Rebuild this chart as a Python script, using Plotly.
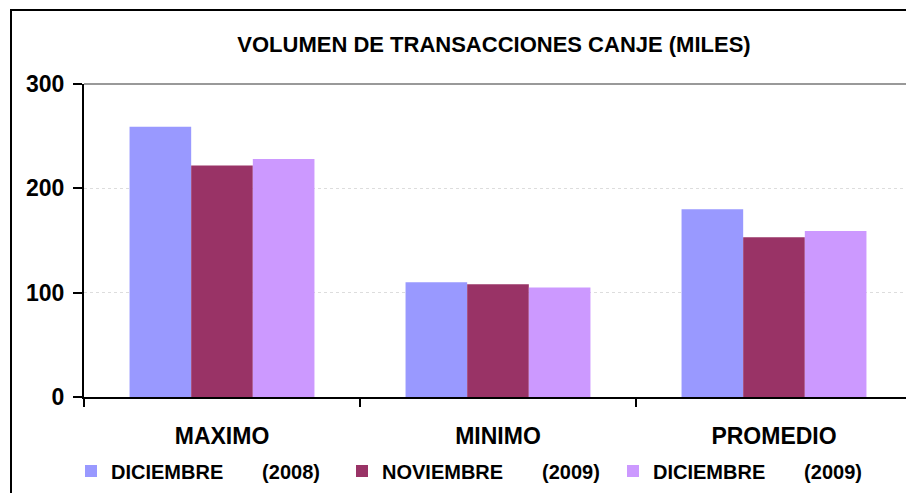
import plotly.graph_objects as go

categories = ["MAXIMO", "MINIMO", "PROMEDIO"]
NB = "\u00a0" * 7
series_names = ["DICIEMBRE" + NB + "(2008)",
                "NOVIEMBRE" + NB + "(2009)",
                "DICIEMBRE" + NB + "(2009)"]
dic_2008 = [259, 110, 180]
nov_2009 = [222, 108, 153]
dic_2009 = [228, 105, 159]
colors = ["#9999FF", "#993366", "#CC99FF"]
y_ticks = [0, 100, 200, 300]

FONT = "Liberation Sans, Arial, sans-serif"

fig = go.Figure()
for name, vals, c in zip(series_names, [dic_2008, nov_2009, dic_2009], colors):
    fig.add_trace(go.Bar(x=categories, y=vals, name=name, marker_color=c,
                         marker_line_width=0))

# page body has an 8px margin, so the figure starts at (8, 8)
OFF = 8
W, H = 914 - OFF, 493 - OFF
L, R, T, B = 84 - OFF, 2, 84 - OFF, 96
pw, ph = W - L - R, H - T - B

fig.update_layout(
    width=W, height=H,
    margin=dict(l=L, r=R, t=T, b=B, autoexpand=False),
    paper_bgcolor="white", plot_bgcolor="white",
    barmode="group", bargap=0.33, bargroupgap=0,
    title=dict(text="<b>VOLUMEN DE TRANSACCIONES CANJE (MILES)</b>",
               x=(494 - OFF) / W, xanchor="center", y=1 - (44 - OFF) / H,
               yanchor="middle",
               font=dict(family=FONT, size=22, color="black")),
    font=dict(family=FONT, color="black"),
    showlegend=True,
    legend=dict(orientation="h", x=(71 - 84) / pw, xanchor="left",
                y=-(471 - 397) / ph, yanchor="middle",
                font=dict(family=FONT, size=20, color="black", weight="bold"),
                entrywidth=226, entrywidthmode="pixels", itemwidth=30,
                bgcolor="rgba(0,0,0,0)", traceorder="normal"),
    xaxis=dict(type="category", showline=True, linecolor="black", linewidth=2,
               ticks="outside", tickson="boundaries", ticklen=8, tickwidth=2,
               tickcolor="black", showgrid=False, automargin=False,
               tickfont=dict(family=FONT, size=23, color="black", weight="bold"),
               ticklabelstandoff=17),
    yaxis=dict(range=[0, 300], tickvals=y_ticks, showline=True, linecolor="black",
               linewidth=2, ticks="outside", ticklen=9, tickwidth=2, tickcolor="black",
               showgrid=True, gridcolor="#DDDDDD", gridwidth=1, griddash="dot",
               zeroline=False, automargin=False,
               tickfont=dict(family=FONT, size=23, color="black", weight="bold"),
               ticklabelstandoff=4),
    shapes=[
        dict(type="line", xref="paper", yref="paper", x0=0, x1=1, y0=1, y1=1,
             line=dict(color="#999999", width=2)),
        dict(type="line", xref="paper", yref="paper", x0=1, x1=1, y0=0, y1=1,
             line=dict(color="#999999", width=1.5)),
        dict(type="rect", xref="paper", yref="paper",
             x0=(11 - 84) / pw, x1=1.2, y0=-0.6, y1=1 + (84 - 10) / ph,
             line=dict(color="black", width=2), layer="below"),
    ],
)

fig.write_html("out.html")
